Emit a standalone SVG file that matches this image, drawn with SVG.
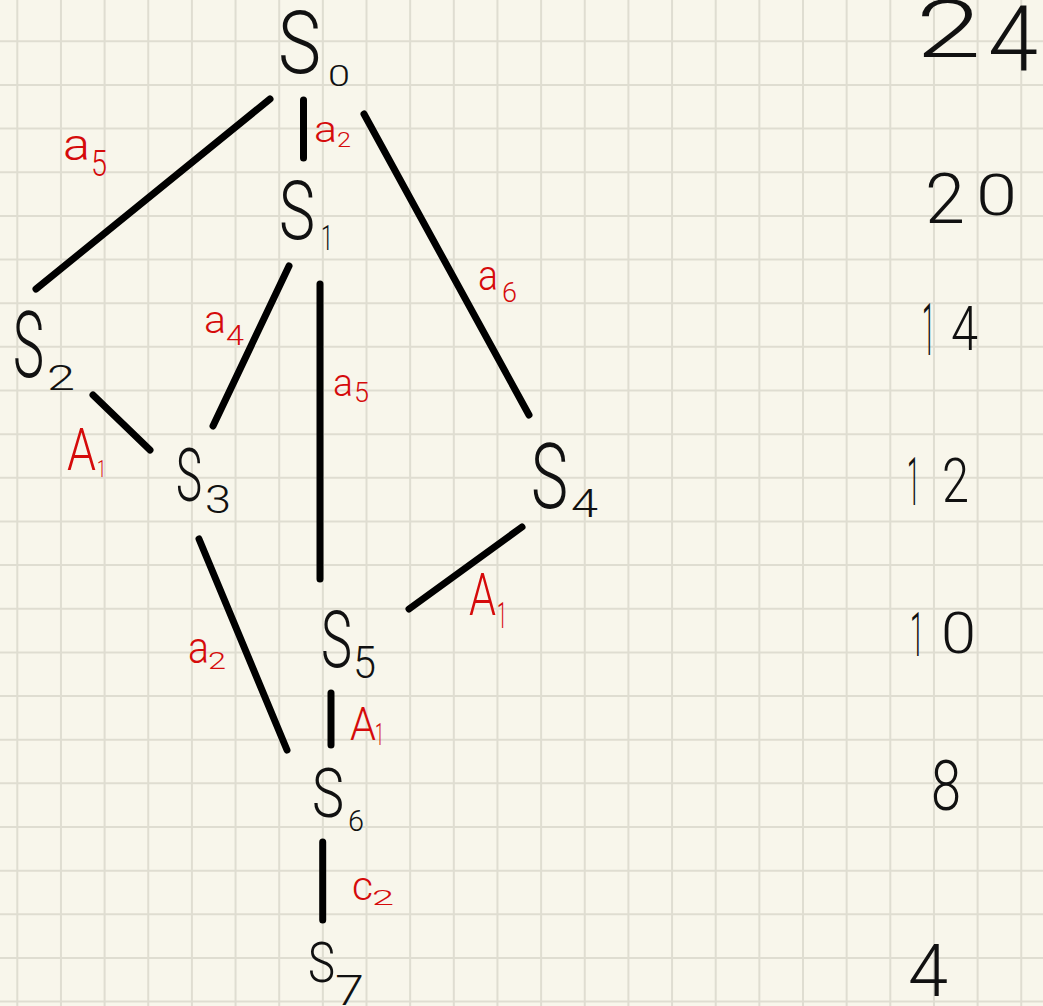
<svg xmlns="http://www.w3.org/2000/svg" width="1043" height="1006" viewBox="0 0 1043 1006">
<style>
text{font-family:Roboto,"Open Sans","Liberation Sans",sans-serif;font-weight:300;}
.blk{fill:#111;}
.red{fill:#d50b0b;}
.edge{stroke:#000;stroke-width:7;stroke-linecap:round;fill:none;}
.grid{stroke:#dfddd1;stroke-width:2;fill:none;}
</style>
<rect width="1043" height="1006" fill="#f8f6eb"/>
<path class="grid" d="M17.3 0V1006M60.95 0V1006M104.6 0V1006M148.25 0V1006M191.9 0V1006M235.55 0V1006M279.2 0V1006M322.85 0V1006M366.5 0V1006M410.15 0V1006M453.8 0V1006M497.45 0V1006M541.1 0V1006M584.75 0V1006M628.4 0V1006M672.05 0V1006M715.7 0V1006M759.35 0V1006M803 0V1006M846.65 0V1006M890.3 0V1006M933.95 0V1006M977.6 0V1006M1021.25 0V1006M0 41.3H1043M0 84.95H1043M0 128.6H1043M0 172.25H1043M0 215.9H1043M0 259.55H1043M0 303.2H1043M0 346.85H1043M0 390.5H1043M0 434.15H1043M0 477.8H1043M0 521.45H1043M0 565.1H1043M0 608.75H1043M0 652.4H1043M0 696.05H1043M0 739.7H1043M0 783.35H1043M0 827H1043M0 870.65H1043M0 914.3H1043M0 957.95H1043M0 1001.6H1043"/>
<g id="connectors">
<line class="edge" x1="270" y1="99" x2="36" y2="289"/>
<line class="edge" x1="303.5" y1="100" x2="303.5" y2="158"/>
<line class="edge" x1="364" y1="114" x2="529" y2="415"/>
<line class="edge" x1="289" y1="266" x2="213" y2="426"/>
<line class="edge" x1="320" y1="284" x2="320" y2="579"/>
<line class="edge" x1="93" y1="395" x2="150" y2="450"/>
<line class="edge" x1="522" y1="527" x2="409" y2="609"/>
<line class="edge" x1="199" y1="539" x2="287" y2="750"/>
<line class="edge" x1="331" y1="693" x2="331" y2="745"/>
<line class="edge" x1="322.7" y1="842" x2="322.7" y2="920"/>
</g>
<g id="edge-labels">
<text class="red" x="63" y="160" font-size="44" textLength="27" lengthAdjust="spacingAndGlyphs">a</text><text class="red" x="91" y="176" font-size="36" textLength="16" lengthAdjust="spacingAndGlyphs">5</text>
<text class="red" x="314" y="142" font-size="36" textLength="23" lengthAdjust="spacingAndGlyphs">a</text><text class="red" x="337" y="147" font-size="20" textLength="14" lengthAdjust="spacingAndGlyphs">2</text>
<text class="red" x="478" y="290" font-size="42" textLength="20" lengthAdjust="spacingAndGlyphs">a</text><text class="red" x="502" y="302" font-size="27" textLength="15" lengthAdjust="spacingAndGlyphs">6</text>
<text class="red" x="204" y="333" font-size="38" textLength="22" lengthAdjust="spacingAndGlyphs">a</text><text class="red" x="226" y="345" font-size="27" textLength="18" lengthAdjust="spacingAndGlyphs">4</text>
<text class="red" x="333" y="396" font-size="38" textLength="20" lengthAdjust="spacingAndGlyphs">a</text><text class="red" x="354" y="402" font-size="27" textLength="15" lengthAdjust="spacingAndGlyphs">5</text>
<text class="red" x="67" y="470" font-size="60" textLength="29" lengthAdjust="spacingAndGlyphs">A</text><text class="red" x="97" y="477" font-size="24" textLength="9" lengthAdjust="spacingAndGlyphs">1</text>
<text class="red" x="469" y="615" font-size="59" textLength="27" lengthAdjust="spacingAndGlyphs">A</text><text class="red" x="497" y="628" font-size="36" textLength="10" lengthAdjust="spacingAndGlyphs">1</text>
<text class="red" x="188" y="663" font-size="44" textLength="21" lengthAdjust="spacingAndGlyphs">a</text><text class="red" x="208" y="669" font-size="24" textLength="18" lengthAdjust="spacingAndGlyphs">2</text>
<text class="red" x="350" y="740" font-size="46" textLength="26" lengthAdjust="spacingAndGlyphs">A</text><text class="red" x="375" y="745" font-size="32" textLength="9" lengthAdjust="spacingAndGlyphs">1</text>
<text class="red" x="352" y="900" font-size="40" textLength="21" lengthAdjust="spacingAndGlyphs">c</text><text class="red" x="372" y="905" font-size="20" textLength="22" lengthAdjust="spacingAndGlyphs">2</text>
</g>
<g id="S0"><text class="blk" x="278" y="73" font-size="88" textLength="43" lengthAdjust="spacingAndGlyphs">S</text><text class="blk" x="328" y="86" font-size="29" textLength="22" lengthAdjust="spacingAndGlyphs">0</text></g>
<g id="S1"><text class="blk" x="279" y="239" font-size="81" textLength="36" lengthAdjust="spacingAndGlyphs">S</text><text class="blk" x="321" y="250" font-size="35" textLength="12" lengthAdjust="spacingAndGlyphs">1</text></g>
<g id="S2"><text class="blk" x="13" y="377" font-size="92" textLength="31" lengthAdjust="spacingAndGlyphs">S</text><text class="blk" x="47" y="390" font-size="35" textLength="28" lengthAdjust="spacingAndGlyphs">2</text></g>
<g id="S3"><text class="blk" x="176" y="501" font-size="75" textLength="26" lengthAdjust="spacingAndGlyphs">S</text><text class="blk" x="205" y="513" font-size="38" textLength="26" lengthAdjust="spacingAndGlyphs">3</text></g>
<g id="S4"><text class="blk" x="531" y="508" font-size="90" textLength="37" lengthAdjust="spacingAndGlyphs">S</text><text class="blk" x="571" y="517" font-size="38" textLength="27" lengthAdjust="spacingAndGlyphs">4</text></g>
<g id="S5"><text class="blk" x="321" y="667" font-size="79" textLength="31" lengthAdjust="spacingAndGlyphs">S</text><text class="blk" x="353" y="678" font-size="45" textLength="23" lengthAdjust="spacingAndGlyphs">5</text></g>
<g id="S6"><text class="blk" x="312" y="817" font-size="68" textLength="32" lengthAdjust="spacingAndGlyphs">S</text><text class="blk" x="348" y="831" font-size="30" textLength="16" lengthAdjust="spacingAndGlyphs">6</text></g>
<g id="S7"><text class="blk" x="308" y="982" font-size="55" textLength="27" lengthAdjust="spacingAndGlyphs">S</text><text class="blk" x="335" y="1005" font-size="43" textLength="29" lengthAdjust="spacingAndGlyphs">7</text></g>
<g id="levels">
<text class="blk" x="916" y="57" font-size="80" textLength="65" lengthAdjust="spacingAndGlyphs">2</text><text class="blk" x="988" y="70" font-size="90" textLength="50" lengthAdjust="spacingAndGlyphs">4</text>
<text class="blk" x="925" y="223" font-size="70" textLength="40" lengthAdjust="spacingAndGlyphs">2</text><text class="blk" x="976" y="215" font-size="57" textLength="41" lengthAdjust="spacingAndGlyphs">0</text>
<text class="blk" x="922" y="355" font-size="73" textLength="13" lengthAdjust="spacingAndGlyphs">1</text><text class="blk" x="951" y="350" font-size="61" textLength="27" lengthAdjust="spacingAndGlyphs">4</text>
<text class="blk" x="907" y="505" font-size="66" textLength="13" lengthAdjust="spacingAndGlyphs">1</text><text class="blk" x="942" y="502" font-size="62" textLength="27" lengthAdjust="spacingAndGlyphs">2</text>
<text class="blk" x="910" y="656" font-size="61" textLength="14" lengthAdjust="spacingAndGlyphs">1</text><text class="blk" x="941" y="653" font-size="58" textLength="35" lengthAdjust="spacingAndGlyphs">0</text>
<text class="blk" x="931" y="810" font-size="70" textLength="30" lengthAdjust="spacingAndGlyphs">8</text>
<text class="blk" x="908" y="996" font-size="72" textLength="40" lengthAdjust="spacingAndGlyphs">4</text>
</g>
</svg>
